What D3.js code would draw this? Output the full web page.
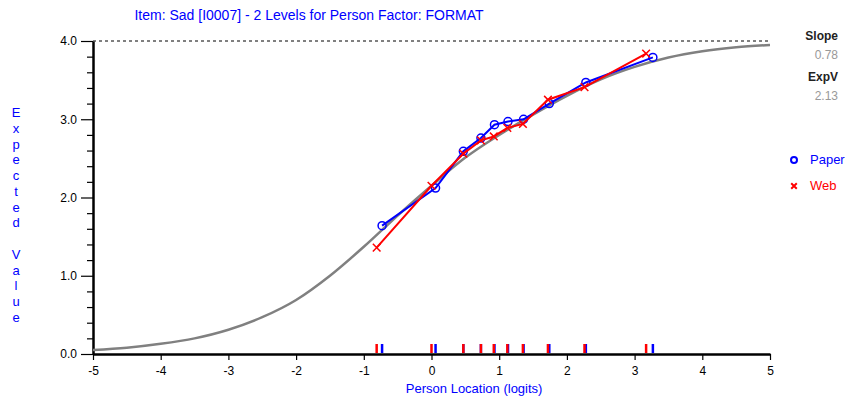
<!DOCTYPE html>
<html>
<head>
<meta charset="utf-8">
<script src="https://cdn.jsdelivr.net/npm/d3@7"></script>
<style>
  body { margin: 0; background: #fff; }
  text { font-family: "Liberation Sans", Arial, sans-serif; }
</style>
</head>
<body>
<div id="chart"></div>
<script>
// datos

const title = "Item: Sad [I0007] - 2 Levels for Person Factor: FORMAT"
const xTicks = [-5, -4, -3, -2, -1, 0, 1, 2, 3, 4, 5]
const yTicks = [0, 1, 2, 3, 4]

// curva esperada
const curveX = [-5, -4.5, -4, -3.5, -3, -2.5, -2, -1.5, -1, -0.5, 0, 0.5, 1, 1.5, 2, 2.5, 3, 3.5, 4, 4.5, 5]
const curveY = [0.05, 0.08, 0.13, 0.20, 0.31, 0.47, 0.69, 1.00, 1.37, 1.77, 2.15, 2.51, 2.80, 3.06, 3.30, 3.51, 3.67, 3.79, 3.87, 3.92, 3.95]

const paperX = [-0.73, 0.06, 0.47, 0.73, 0.93, 1.13, 1.36, 1.74, 2.28, 3.27]
const paperY = [1.64, 2.12, 2.59, 2.76, 2.93, 2.97, 3.00, 3.20, 3.47, 3.79]
const webX = [-0.81, 0.0, 0.47, 0.73, 0.92, 1.12, 1.35, 1.72, 2.26, 3.17]
const webY = [1.36, 2.15, 2.56, 2.73, 2.78, 2.89, 2.94, 3.25, 3.41, 3.84]

const slope = "0.78"
const expV = "2.13"

// constantes

const width = 848
const height = 399
const margin = { top: 41, bottom: 45, left: 93, right: 78 }

const svg = d3.select("#chart").append("svg").attr("width", width).attr("height", height)

const x = d3.scaleLinear().domain([-5, 5]).range([margin.left, width - margin.right])
const y = d3.scaleLinear().domain([0, 4]).range([height - margin.bottom, margin.top])

const blue = "#0000ff"
const red = "#ff0000"

// titulo
svg.append("text")
    .attr("x", 309).attr("y", 20)
    .attr("text-anchor", "middle")
    .style("font-size", "14px")
    .attr("fill", blue)
    .text(title)

// linea discontinua superior
svg.append("line")
    .attr("x1", x(-5)).attr("x2", x(5))
    .attr("y1", y(4)).attr("y2", y(4))
    .attr("stroke", "#000").attr("stroke-dasharray", "3,3")

// ejes
const yMinor = d3.range(0, 4.001, 0.2).filter(v => Math.abs(v - Math.round(v)) > 0.01)
svg.append("g").attr("transform", `translate(${margin.left},0)`)
    .call(d3.axisLeft(y).tickValues(yMinor).tickSize(6).tickFormat(""))
    .call(g => g.select(".domain").remove())
    .call(g => g.selectAll("line").attr("stroke-width", 1.2))

const yAxisGroup = svg.append("g").attr("transform", `translate(${margin.left},0)`)
    .call(d3.axisLeft(y).tickValues(yTicks).tickSize(12).tickSizeOuter(0).tickFormat(d3.format(".1f")))
yAxisGroup.select(".domain").attr("stroke-width", 2.5)
yAxisGroup.selectAll("line").attr("stroke-width", 1.2)
yAxisGroup.selectAll("text").style("font-size", "12px").attr("fill", "#000").attr("dx", "-1")

const xAxisGroup = svg.append("g").attr("transform", `translate(0,${y(0)})`)
    .call(d3.axisBottom(x).tickValues(xTicks).tickSize(6).tickSizeOuter(0).tickFormat(d => String(d)))
xAxisGroup.select(".domain").attr("stroke-width", 2.5)
xAxisGroup.selectAll("line").attr("stroke-width", 1.2)
xAxisGroup.selectAll("text").style("font-size", "12px").attr("fill", "#000").attr("dy", "1em")

// etiquetas ejes
svg.append("text")
    .attr("x", x(0.63)).attr("y", 393)
    .attr("text-anchor", "middle")
    .style("font-size", "13px")
    .attr("fill", blue)
    .text("Person Location (logits)")

const yLabel = "Expected Value".split("")
svg.append("g").selectAll("text").data(yLabel)
    .join("text")
        .attr("x", 16)
        .attr("y", (d, i) => 117 + i * 15.77)
        .attr("text-anchor", "middle")
        .style("font-size", "13px")
        .attr("fill", blue)
        .text(d => d)

// curva modelo
const line = d3.line().x(d => x(d[0])).y(d => y(d[1])).curve(d3.curveMonotoneX)
svg.append("path")
    .datum(curveX.map((v, i) => [v, curveY[i]]))
    .attr("d", line)
    .attr("fill", "none")
    .attr("stroke", "#808080")
    .attr("stroke-width", 2.5)

// marcas rug
const rugGroup = svg.append("g")
rugGroup.selectAll(".rugP").data(paperX)
    .join("line").attr("class", "rugP")
        .attr("x1", d => x(d)).attr("x2", d => x(d))
        .attr("y1", y(0) - 10).attr("y2", y(0) - 1)
        .attr("stroke", blue).attr("stroke-width", 2.5)
rugGroup.selectAll(".rugW").data(webX)
    .join("line").attr("class", "rugW")
        .attr("x1", d => x(d)).attr("x2", d => x(d))
        .attr("y1", y(0) - 10).attr("y2", y(0) - 1)
        .attr("stroke", red).attr("stroke-width", 2.5)

// series
const straight = d3.line().x(d => x(d[0])).y(d => y(d[1]))
const paper = paperX.map((v, i) => [v, paperY[i]])
const web = webX.map((v, i) => [v, webY[i]])

svg.append("path").datum(paper).attr("d", straight)
    .attr("fill", "none").attr("stroke", blue).attr("stroke-width", 2)
svg.append("g").selectAll("circle").data(paper)
    .join("circle")
        .attr("cx", d => x(d[0])).attr("cy", d => y(d[1]))
        .attr("r", 4)
        .attr("fill", "none").attr("stroke", blue).attr("stroke-width", 1.5)

svg.append("path").datum(web).attr("d", straight)
    .attr("fill", "none").attr("stroke", red).attr("stroke-width", 2)
const cross = d3.symbol().type(d3.symbolX).size(40)
svg.append("g").selectAll("path").data(web)
    .join("path")
        .attr("transform", d => `translate(${x(d[0])},${y(d[1])})`)
        .attr("d", cross)
        .attr("fill", "none").attr("stroke", red).attr("stroke-width", 1.5)

// panel derecho
const side = svg.append("g").attr("text-anchor", "end").style("font-size", "12px")
side.append("text").attr("x", 838).attr("y", 40).attr("fill", "#222").style("font-weight", "bold").text("Slope")
side.append("text").attr("x", 838).attr("y", 59).attr("fill", "#999").text(slope)
side.append("text").attr("x", 838).attr("y", 81).attr("fill", "#222").style("font-weight", "bold").text("ExpV")
side.append("text").attr("x", 838).attr("y", 100).attr("fill", "#999").text(expV)

// leyenda
const legend = svg.append("g")
legend.append("circle").attr("cx", 794).attr("cy", 160).attr("r", 3)
    .attr("fill", "none").attr("stroke", blue).attr("stroke-width", 2)
legend.append("text").attr("x", 810).attr("y", 164).attr("fill", blue).style("font-size", "13px").text("Paper")
legend.append("path").attr("transform", "translate(794,186)").attr("d", d3.symbol().type(d3.symbolX).size(22))
    .attr("fill", "none").attr("stroke", red).attr("stroke-width", 2)
legend.append("text").attr("x", 810).attr("y", 190).attr("fill", red).style("font-size", "13px").text("Web")
</script>
</body>
</html>
